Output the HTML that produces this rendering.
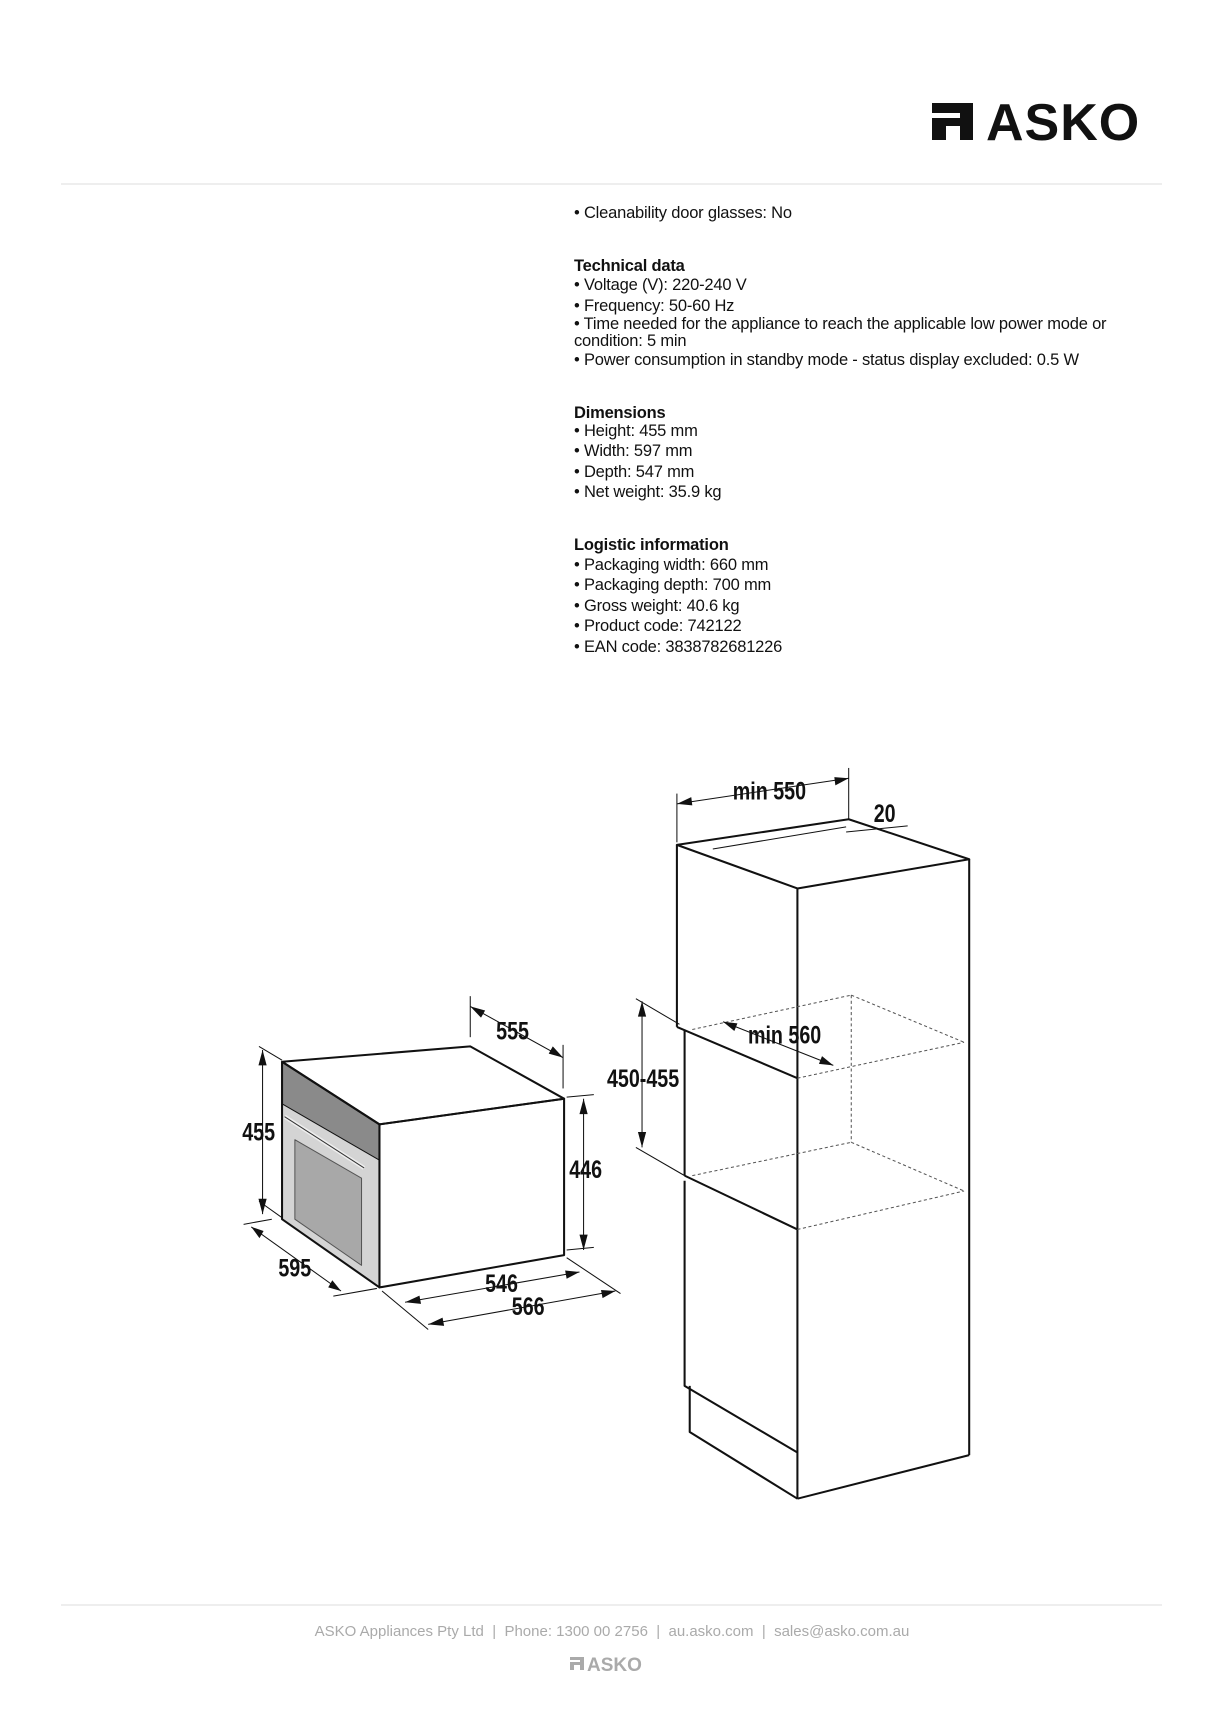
<!DOCTYPE html>
<html><head><meta charset="utf-8"><style>
html,body{margin:0;padding:0;background:#fff}
body{width:1214px;height:1717px;position:relative;overflow:hidden;font-family:"Liberation Sans",sans-serif;color:#111}
.t{position:absolute;left:574px;font-size:16.5px;line-height:18px;white-space:nowrap;letter-spacing:-0.2px}
.b{font-weight:bold}
</style></head><body>
<svg style="position:absolute;left:0;top:0" width="1214" height="1717">
<line x1="61" y1="184" x2="1162" y2="184" stroke="#ddd" stroke-width="1"/>
<line x1="61" y1="1605" x2="1162" y2="1605" stroke="#ddd" stroke-width="1"/>
<path d="M932 103 H973 V140 H960 V126 H946 V140 H932 V118 H960 V113 H932 Z" fill="#111"/>
<text x="986" y="140" font-family="Liberation Sans" font-weight="bold" font-size="52" letter-spacing="1" fill="#111">ASKO</text>
<path d="M570 1657 H584 V1670 H580 V1665 H574 V1670 H570 V1662 H580 V1660 H570 Z" fill="#aaa"/>
<text x="587" y="1671" font-family="Liberation Sans" font-weight="bold" font-size="19" fill="#aaa">ASKO</text>
<text x="612" y="1636" text-anchor="middle" font-family="Liberation Sans" font-size="15" fill="#aaa">ASKO Appliances Pty Ltd &#160;|&#160; Phone: 1300 00 2756 &#160;|&#160; au.asko.com &#160;|&#160; sales@asko.com.au</text>

<g transform="translate(200,750) scale(0.5128)" fill="none" stroke="#111" stroke-width="4" stroke-linejoin="round">
<polygon points="160,608 350,730 350,800 160,690" fill="#8a8a8a" stroke="none"/>
<polygon points="160,690 350,800 350,1048 160,915" fill="#d4d4d4" stroke="none"/>
<polygon points="185,760 315,835 315,1005 185,915" fill="#a8a8a8" stroke="#555" stroke-width="2"/>
<polygon points="160,608 527,578 710,680 350,730"/>
<polygon points="350,730 710,680 710,985 350,1048"/>
<polyline points="160,608 160,915 350,1048 350,730 160,608"/>
<line x1="160" y1="690" x2="350" y2="800" stroke-width="2"/>
<line x1="165" y1="715" x2="320" y2="815" stroke="#eee" stroke-width="8"/>
<line x1="165" y1="715" x2="320" y2="815" stroke="#333" stroke-width="2"/>
<g stroke-width="2">
<line x1="122" y1="585" x2="122" y2="905"/><line x1="115" y1="578" x2="160" y2="605"/><line x1="115" y1="880" x2="160" y2="912"/>
<line x1="748" y1="680" x2="748" y2="975"/><line x1="715" y1="677" x2="768" y2="672"/><line x1="715" y1="975" x2="768" y2="970"/>
<line x1="527" y1="500" x2="708" y2="600"/><line x1="527" y1="480" x2="527" y2="560"/><line x1="708" y1="575" x2="708" y2="660"/>
<line x1="100" y1="930" x2="275" y2="1055"/><line x1="85" y1="925" x2="140" y2="915"/><line x1="260" y1="1065" x2="345" y2="1050"/>
<line x1="400" y1="1077" x2="740" y2="1018"/><line x1="355" y1="1055" x2="445" y2="1130"/><line x1="715" y1="990" x2="820" y2="1060"/>
<line x1="445" y1="1120" x2="810" y2="1055"/>
</g>
<g fill="#111" stroke="none">
<polygon points="122,585 114,615 130,615"/><polygon points="122,905 114,875 130,875"/>
<polygon points="748,680 740,710 756,710"/><polygon points="748,975 740,945 756,945"/>
<polygon points="527,500 548,522 556,508"/><polygon points="708,600 680,592 688,578"/>
<polygon points="100,930 124,938 116,952"/><polygon points="275,1055 250,1048 258,1034"/>
<polygon points="400,1077 428,1064 431,1080"/><polygon points="740,1018 712,1015 715,1031"/>
<polygon points="445,1120 473,1107 476,1123"/><polygon points="810,1055 782,1053 785,1069"/>
</g>
<polygon points="930,185 1265,135 1500,213 1165,270"/>
<line x1="930" y1="185" x2="930" y2="540"/>
<line x1="1165" y1="270" x2="1165" y2="1460"/>
<line x1="1500" y1="213" x2="1500" y2="1375"/>
<line x1="1165" y1="1460" x2="1500" y2="1375"/>
<polyline points="930,540 1165,640"/>
<line x1="945" y1="545" x2="945" y2="830"/>
<polyline points="945,830 1165,935"/>
<polyline points="945,840 945,1240 1165,1370"/>
<polyline points="955,1240 955,1330 1165,1460"/>
<line x1="1000" y1="193" x2="1260" y2="150" stroke-width="2"/>
<g stroke-width="2" stroke-dasharray="6,5" stroke="#555">
<line x1="960" y1="545" x2="1270" y2="478"/><line x1="1270" y1="478" x2="1490" y2="570"/>
<line x1="1165" y1="640" x2="1490" y2="570"/><line x1="1270" y1="478" x2="1270" y2="765"/>
<line x1="1270" y1="765" x2="1490" y2="860"/><line x1="1165" y1="935" x2="1490" y2="860"/>
<line x1="960" y1="830" x2="1270" y2="765"/>
</g>
<g stroke-width="2">
<line x1="930" y1="105" x2="1265" y2="55"/><line x1="930" y1="85" x2="930" y2="180"/><line x1="1265" y1="35" x2="1265" y2="135"/>
<line x1="1260" y1="160" x2="1380" y2="148"/>
<line x1="862" y1="490" x2="862" y2="775"/><line x1="850" y1="485" x2="935" y2="535"/><line x1="850" y1="775" x2="945" y2="830"/>
<line x1="1020" y1="530" x2="1235" y2="615"/>
</g>
<g fill="#111" stroke="none">
<polygon points="930,105 958,92 960,108"/><polygon points="1265,55 1237,53 1239,69"/>
<polygon points="862,490 854,520 870,520"/><polygon points="862,775 854,745 870,745"/>
<polygon points="1020,530 1048,533 1042,548"/><polygon points="1235,615 1207,612 1213,597"/>
</g>
<g fill="#111" stroke="none" font-family="Liberation Sans Narrow, Liberation Sans, sans-serif" font-weight="bold" font-size="48" text-anchor="middle" transform="scale(0.8,1)">
<text x="143" y="762">455</text><text x="940" y="835">446</text><text x="762" y="565">555</text>
<text x="231" y="1027">595</text><text x="735" y="1057">546</text><text x="800" y="1102">566</text>
<text x="1388" y="97">min 550</text><text x="1669" y="140">20</text>
<text x="1080" y="657">450-455</text><text x="1425" y="572">min 560</text>
</g>
</g>
</svg>
<div class="t" style="top:204px">• Cleanability door glasses: No</div>
<div class="t b" style="top:257px">Technical data</div>
<div class="t" style="top:276px">• Voltage (V): 220-240 V</div>
<div class="t" style="top:297px">• Frequency: 50-60 Hz</div>
<div class="t" style="top:315px">• Time needed for the appliance to reach the applicable low power mode or</div>
<div class="t" style="top:332px">condition: 5 min</div>
<div class="t" style="top:351px">• Power consumption in standby mode - status display excluded: 0.5 W</div>
<div class="t b" style="top:404px">Dimensions</div>
<div class="t" style="top:422px">• Height: 455 mm</div>
<div class="t" style="top:442px">• Width: 597 mm</div>
<div class="t" style="top:463px">• Depth: 547 mm</div>
<div class="t" style="top:483px">• Net weight: 35.9 kg</div>
<div class="t b" style="top:536px">Logistic information</div>
<div class="t" style="top:556px">• Packaging width: 660 mm</div>
<div class="t" style="top:576px">• Packaging depth: 700 mm</div>
<div class="t" style="top:597px">• Gross weight: 40.6 kg</div>
<div class="t" style="top:617px">• Product code: 742122</div>
<div class="t" style="top:638px">• EAN code: 3838782681226</div>
</body></html>
